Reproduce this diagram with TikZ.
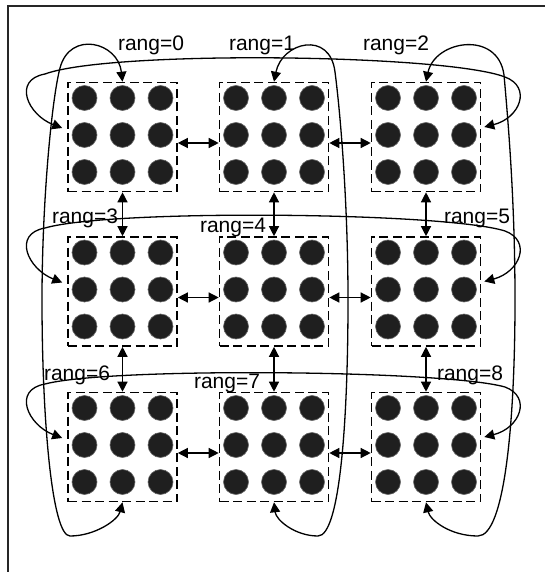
\documentclass[tikz,border=0pt]{standalone}
\usepackage{fontspec}
\setmainfont{Liberation Sans}
\usetikzlibrary{arrows.meta,calc}
\begin{document}
\begin{tikzpicture}[x=1pt,y=-1pt,
  grp/.style={draw,dash pattern=on 9pt off 4.5pt,line width=1.6pt,minimum width=109pt,minimum height=109pt,inner sep=0pt},
  dot/.style={circle,fill=black!88,draw=black!60,line width=0.6pt,minimum size=25pt,inner sep=0pt},
  lnk/.style={line width=1.3pt,{Triangle[length=10pt,width=10pt]}-{Triangle[length=10pt,width=10pt]}},
  lbl/.style={font=\fontsize{21}{24}\selectfont,anchor=base,inner sep=0pt},
]
\useasboundingbox (0,0) rectangle (545,572);
\draw[line width=1.5pt,black!85] (545,6) -- (8,6) -- (8,572);
% boxes with dots
\foreach \i/\x/\y in {0/122.5/137,1/274/137,2/426/137,3/122.5/291.5,4/274/291.5,5/426/291.5,6/122.5/447,7/274/447,8/426/447}{
  \node[grp] (b\i) at (\x,\y) {};
  \foreach \r in {0,1,2}{
    \foreach \c in {0,1,2}{
      \node[dot] (d\i\r\c) at ({\x+38*(\c-1)},{\y-2+37*(\r-1)}) {};
    }
  }
}
% neighbour links
\foreach \a/\b in {0/1,1/2,3/4,4/5,6/7,7/8}{
  \draw[lnk] ([yshift=-6pt]b\a.east) -- ([yshift=-6pt]b\b.west);
}
\foreach \a/\b in {0/3,3/6,1/4,4/7,2/5,5/8}{
  \draw[lnk] (b\a.south) -- (b\b.north);
}
% row wraps
\draw[lnk] ([shift={(-5,-9)}]b0.west) .. controls (28,115) and (12,80) .. (45,74)
  .. controls (110,50) and (445,54) .. (505,77) .. controls (532,87) and (520,118) .. ([shift={(3,-10)}]b2.east);
\draw[lnk] ([shift={(-5,-9)}]b3.west) .. controls (28,269) and (12,234) .. (45,228)
  .. controls (110,209) and (445,212) .. (505,231) .. controls (532,241) and (520,272) .. ([shift={(3,-10)}]b5.east);
\draw[lnk] ([shift={(-5,-9)}]b6.west) .. controls (28,425) and (12,390) .. (45,384)
  .. controls (110,367) and (445,370) .. (505,387) .. controls (532,397) and (520,428) .. ([shift={(3,-10)}]b8.east);
% column wraps
\draw[lnk] (b0.north) .. controls (118,42) and (70,30) .. (60,68)
  .. controls (52,98) and (42,200) .. (42,300)
  .. controls (42,420) and (52,536) .. (70,536)
  .. controls (95,536) and (118,520) .. (b6.south);
\draw[lnk] (b1.north) .. controls (282,42) and (330,30) .. (335,72)
  .. controls (340,110) and (348,200) .. (348,300)
  .. controls (348,420) and (340,536) .. (318,536)
  .. controls (295,536) and (276,520) .. (b7.south);
\draw[lnk] (b2.north) .. controls (435,40) and (498,30) .. (504,75)
  .. controls (508,120) and (515,200) .. (515,300)
  .. controls (515,420) and (505,536) .. (478,536)
  .. controls (450,536) and (430,520) .. (b8.south);
% labels
\node[lbl] (l0) at (151,51) {rang=0};
\node[lbl] (l1) at (262,51) {rang=1};
\node[lbl] (l2) at (396,51) {rang=2};
\node[lbl] (l3) at (85,223) {rang=3};
\node[lbl] (l4) at (233,232) {rang=4};
\node[lbl] (l5) at (477,223) {rang=5};
\node[lbl] (l6) at (77,380) {rang=6};
\node[lbl] (l7) at (227,388) {rang=7};
\node[lbl] (l8) at (470,380) {rang=8};
\end{tikzpicture}
\end{document}
